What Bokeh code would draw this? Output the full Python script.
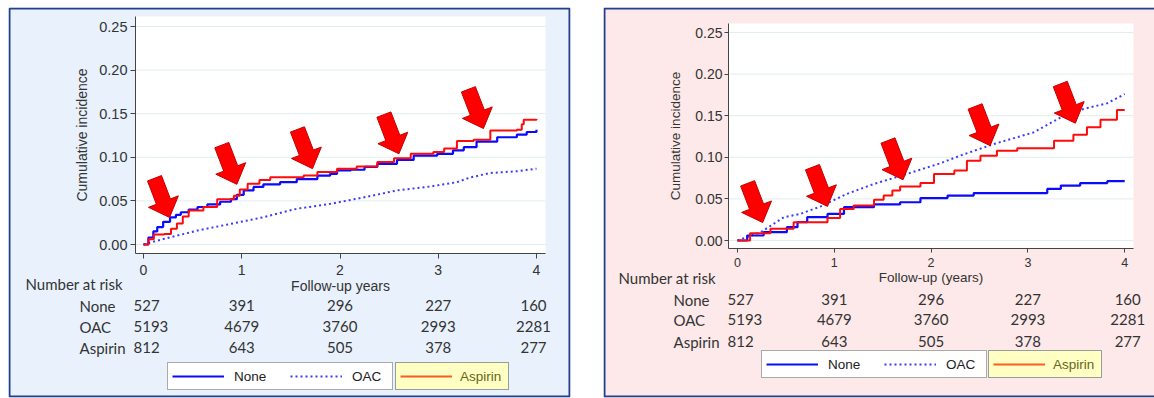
import math
from bokeh.plotting import figure
from bokeh.models import (Range1d, FixedTicker, NumeralTickFormatter, Label,
                          Legend, LegendItem, BoxAnnotation)
from bokeh.layouts import row
from bokeh.embed import file_html
from bokeh.resources import INLINE

# ---------------- data ----------------
years = [0, 1, 2, 3, 4]
groups = ["None", "OAC", "Aspirin"]
risk_none = [527, 391, 296, 227, 160]
risk_oac = [5193, 4679, 3760, 2993, 2281]
risk_aspirin = [812, 643, 505, 378, 277]
yticks = [0.0, 0.05, 0.10, 0.15, 0.20, 0.25]

# left panel
L_none_t = [0, 0.05, 0.10, 0.14, 0.20, 0.27, 0.33, 0.38, 0.46, 0.55, 0.65, 0.78, 0.89, 0.95,
            1.02, 1.12, 1.22, 1.39, 1.56, 1.77, 1.90, 1.97, 2.11, 2.25, 2.38, 2.58, 2.75,
            2.99, 3.15, 3.26, 3.39, 3.60, 3.80, 3.90, 4.0]
L_none_v = [0, 0.008, 0.015, 0.020, 0.026, 0.031, 0.034, 0.037, 0.040, 0.043, 0.046, 0.049,
            0.052, 0.057, 0.062, 0.066, 0.069, 0.0715, 0.075, 0.079, 0.081, 0.085, 0.0857,
            0.089, 0.0925, 0.097, 0.102, 0.104, 0.108, 0.1116, 0.118, 0.123, 0.126, 0.129, 0.1315]
L_asp_t = [0, 0.05, 0.105, 0.21, 0.28, 0.34, 0.40, 0.46, 0.61, 0.75, 0.92, 0.98, 1.06, 1.18,
           1.29, 1.63, 1.77, 1.97, 2.17, 2.38, 2.55, 2.72, 2.95, 3.06, 3.19, 3.36, 3.53, 3.80,
           3.85, 3.87, 4.0]
L_asp_v = [0, 0.006, 0.0115, 0.012, 0.018, 0.024, 0.032, 0.039, 0.043, 0.052, 0.056, 0.063,
           0.0696, 0.074, 0.077, 0.079, 0.083, 0.087, 0.0895, 0.0945, 0.099, 0.104, 0.106,
           0.110, 0.1186, 0.120, 0.1307, 0.1315, 0.138, 0.143, 0.144]
L_oac_t = [0, 0.21, 0.55, 0.89, 1.22, 1.56, 1.90, 2.24, 2.58, 2.92, 3.19, 3.33, 3.53, 3.80, 4.0]
L_oac_v = [0, 0.0065, 0.016, 0.0237, 0.0313, 0.041, 0.0466, 0.054, 0.062, 0.0665, 0.0715,
           0.077, 0.082, 0.084, 0.087]
L_arrow_t = [0.265, 0.95, 1.72, 2.60, 3.46]
L_arrow_v = [0.031, 0.069, 0.087, 0.104, 0.133]

# right panel
R_none_t = [0, 0.10, 0.27, 0.51, 0.62, 0.72, 0.93, 1.10, 1.41, 1.68, 1.89, 2.17, 2.44, 3.13,
            3.20, 3.34, 3.54, 3.82, 4.0]
R_none_v = [0, 0.006, 0.010, 0.016, 0.022, 0.028, 0.032, 0.040, 0.0433, 0.046, 0.051, 0.054,
            0.057, 0.057, 0.062, 0.066, 0.069, 0.0713, 0.0713]
R_asp_t = [0, 0.13, 0.34, 0.58, 0.82, 0.93, 1.06, 1.20, 1.41, 1.51, 1.60, 1.68, 1.89, 2.03,
           2.24, 2.37, 2.51, 2.68, 2.89, 3.20, 3.27, 3.47, 3.61, 3.75, 3.92, 4.0]
R_asp_v = [0, 0.0088, 0.014, 0.022, 0.022, 0.027, 0.038, 0.042, 0.049, 0.054, 0.060, 0.065,
           0.069, 0.080, 0.084, 0.096, 0.102, 0.108, 0.111, 0.111, 0.120, 0.127, 0.136, 0.145,
           0.157, 0.157]
R_oac_t = [0, 0.24, 0.48, 0.65, 0.86, 1.13, 1.41, 1.75, 2.10, 2.30, 2.65, 3.06, 3.34, 3.54,
           3.82, 4.0]
R_oac_v = [0, 0.010, 0.028, 0.032, 0.041, 0.056, 0.068, 0.080, 0.093, 0.102, 0.116, 0.130,
           0.148, 0.157, 0.165, 0.176]
R_arrow_t = [0.26, 0.93, 1.71, 2.61, 3.49]
R_arrow_v = [0.0216, 0.041, 0.073, 0.114, 0.141]

# ---------------- styling / layout (pixels, page coordinates) ----------------
BLUE = "#0a0aff"
OAC_BLUE = "#3b3bff"
RED = "#ff0a0a"
PANEL_BORDER = "#22408f"
TXT = "#333333"
FONT = "Liberation Sans"
RISK_FONT = "Lato"
H = 398

LEFT = dict(canvas_x=0, W=571, frame=(8, 570, 7, 397), x0=143, ppx=98.25, y0=244, ppy=872.0,
            plot=(135, 545, 16, 253), bg="#e9f2fc",
            ytick_fs="14.5px", xtick_fs="14px", alab_fs="14px",
            ylab_standoff=6, ytick_standoff=3, xtick_standoff=6, xlab_standoff=0, tick_out=5,
            xlabel="Follow-up years", head=(25, 283), rowlab_x=79, rows_y=(305, 326, 347),
            last_off=-3, leg1_x=167, leg2_x=395, leg_b=390, right_border=True)
RIGHT = dict(canvas_x=571, W=583, frame=(603, 1154, 7, 397), x0=737, ppx=96.8, y0=240,
             ppy=832.0, plot=(728, 1133, 23, 248), bg="#fde9e9",
             ytick_fs="14px", xtick_fs="12.5px", alab_fs="13.5px",
             ylab_standoff=9, ytick_standoff=2, xtick_standoff=5, xlab_standoff=0, tick_out=4,
             xlabel="Follow-up (years)", head=(618, 277), rowlab_x=673, rows_y=(299, 319, 341),
             last_off=3, leg1_x=761, leg2_x=988, leg_b=378, right_border=False)


def arrow_shape(tt, tv, ppx, ppy, theta=21.0, length=42.0, head_len=17.0,
                head_w=32.0, shaft_w=15.0):
    th = math.radians(theta)
    d = (math.sin(th), math.cos(th))          # screen direction (y down)
    n = (math.cos(th), -math.sin(th))
    def pt(a, b):
        return (a * d[0] + b * n[0], a * d[1] + b * n[1])
    pts = [pt(0, 0), pt(-head_len, head_w / 2), pt(-head_len, shaft_w / 2),
           pt(-length, shaft_w / 2), pt(-length, -shaft_w / 2),
           pt(-head_len, -shaft_w / 2), pt(-head_len, -head_w / 2)]
    xs = [tt + dx / ppx for dx, dy in pts]
    ys = [tv - dy / ppy for dx, dy in pts]
    return xs, ys


def build(cfg, curves, arrows):
    fl, fr, ft, fb = cfg["frame"]
    cx = cfg["canvas_x"]
    X = lambda px: (px - cfg["x0"]) / cfg["ppx"]
    Y = lambda py: (cfg["y0"] - py) / cfg["ppy"]
    p = figure(width=cfg["W"], height=H, x_range=Range1d(X(fl), X(fr)),
               y_range=Range1d(Y(fb), Y(ft)), output_backend="svg",
               toolbar_location=None, min_border_left=fl - cx,
               min_border_right=cfg["W"] - (fr - cx), min_border_top=ft,
               min_border_bottom=H - fb)
    p.border_fill_color = "white"
    p.background_fill_color = cfg["bg"]
    p.outline_line_color = None

    pl, pr, pt_, pb = cfg["plot"]
    # white plot region and grid lines
    p.quad(left=[X(pl)], right=[X(pr)], top=[Y(pt_)], bottom=[Y(pb)],
           fill_color="white", line_color=None)
    p.segment(x0=[X(pl)] * len(yticks), x1=[X(pr)] * len(yticks), y0=yticks, y1=yticks,
              line_color="#e2eded", line_width=1)
    p.xgrid.grid_line_color = None
    p.ygrid.grid_line_color = None

    # axes drawn at the plot region's edges
    p.xaxis.fixed_location = Y(pb)
    p.yaxis.fixed_location = X(pl)
    p.xaxis.bounds = (X(pl), X(pr))
    p.yaxis.bounds = (Y(pb), Y(pt_))
    p.xaxis.ticker = FixedTicker(ticks=years)
    p.yaxis.ticker = FixedTicker(ticks=yticks)
    p.yaxis.formatter = NumeralTickFormatter(format="0.00")
    for ax in (p.xaxis, p.yaxis):
        ax.axis_line_color = "#444444"
        ax.major_tick_line_color = "#444444"
        ax.major_tick_out = cfg["tick_out"]
        ax.major_tick_in = 0
        ax.minor_tick_line_color = None
        ax.major_label_text_font = FONT
        ax.major_label_text_color = TXT
        ax.axis_label_text_font = FONT
        ax.axis_label_text_font_style = "normal"
        ax.axis_label_text_color = TXT
        ax.axis_label_text_font_size = cfg["alab_fs"]
    p.yaxis.major_label_text_font_size = cfg["ytick_fs"]
    p.xaxis.major_label_text_font_size = cfg["xtick_fs"]
    p.yaxis.major_label_standoff = cfg["ytick_standoff"]
    p.xaxis.major_label_standoff = cfg["xtick_standoff"]
    p.yaxis.axis_label = "Cumulative incidence"
    p.xaxis.axis_label = cfg["xlabel"]
    p.yaxis.axis_label_standoff = cfg["ylab_standoff"]
    p.xaxis.axis_label_standoff = cfg["xlab_standoff"]

    (nt, nv), (ot, ov), (at, av) = curves
    p.line(ot, ov, color=OAC_BLUE, line_width=2, line_dash="2 3")
    p.step(nt, nv, mode="after", color=BLUE, line_width=2.2)
    p.step(at, av, mode="after", color=RED, line_width=2)

    axs, ays = [], []
    for tt, tv in zip(*arrows):
        xs, ys = arrow_shape(tt, tv, cfg["ppx"], cfg["ppy"])
        axs.append(xs)
        ays.append(ys)
    p.patches(axs, ays, fill_color="#ff0000", line_color="#c40000", line_width=1)

    # number at risk table
    hx, hy = cfg["head"]
    p.add_layout(Label(x=X(hx), y=Y(hy), text="Number at risk", text_font=RISK_FONT,
                       text_font_size="15px", text_color=TXT, text_baseline="middle",
                       text_align="left"))
    for g, ry, vals in zip(groups, cfg["rows_y"], (risk_none, risk_oac, risk_aspirin)):
        p.add_layout(Label(x=X(cfg["rowlab_x"]), y=Y(ry), text=g, text_font=RISK_FONT,
                           text_font_size="15px", text_color=TXT, text_baseline="middle",
                           text_align="left"))
        for yr_, v in zip(years, vals):
            if yr_ == 0:
                align, off = "left", -10
            elif yr_ == 4:
                align, off = "center", cfg["last_off"]
            else:
                align, off = "center", 0
            p.add_layout(Label(x=yr_, y=Y(ry), x_offset=off, text=str(v),
                               text_font=RISK_FONT, text_font_size="15px", text_color=TXT,
                               text_baseline="middle", text_align=align))

    # legends (dummy renderers placed off-range, used for legend glyphs only)
    offx, offy = [X(fl) - 5], [Y(fb) - 5]
    g_none = p.line(offx, offy, color=BLUE, line_width=2)
    g_oac = p.line(offx, offy, color=OAC_BLUE, line_width=2, line_dash="2 3")
    g_asp = p.line(offx, offy, color="#ff5a24", line_width=2)
    common = dict(orientation="horizontal", margin=0, glyph_width=52, glyph_height=18,
                  label_height=18, label_text_font=FONT, label_text_font_size="13.5px",
                  padding=4, border_line_width=1)
    leg1 = Legend(items=[LegendItem(label="None", renderers=[g_none]),
                         LegendItem(label="OAC", renderers=[g_oac])],
                  location=(cfg["leg1_x"] - fl, fb - cfg["leg_b"]), spacing=20,
                  label_standoff=10, label_width=36, background_fill_color="white",
                  background_fill_alpha=1, border_line_color="#555555",
                  label_text_color="#222222", **common)
    leg2 = Legend(items=[LegendItem(label="Aspirin", renderers=[g_asp])],
                  location=(cfg["leg2_x"] - fl, fb - cfg["leg_b"]), spacing=0,
                  label_standoff=8, label_width=44, background_fill_color="#ffffc4",
                  background_fill_alpha=1, border_line_color="#2b3d78",
                  label_text_color="#66661a", **common)
    p.add_layout(leg1)
    p.add_layout(leg2)

    # panel border (screen units relative to the frame)
    fw, fh = fr - fl, fb - ft
    p.add_layout(BoxAnnotation(left=1, right=(fw - 1) if cfg["right_border"] else fw + 20,
                               bottom=1, top=fh - 1,
                               left_units="screen", right_units="screen",
                               top_units="screen", bottom_units="screen",
                               fill_alpha=0, fill_color=None,
                               line_color=PANEL_BORDER, line_width=2, line_alpha=1))
    return p


p1 = build(LEFT, ((L_none_t, L_none_v), (L_oac_t, L_oac_v), (L_asp_t, L_asp_v)),
           (L_arrow_t, L_arrow_v))
p2 = build(RIGHT, ((R_none_t, R_none_v), (R_oac_t, R_oac_v), (R_asp_t, R_asp_v)),
           (R_arrow_t, R_arrow_v))

layout = row(p1, p2, spacing=0)
open("out.html", "w").write(file_html(layout, INLINE))
